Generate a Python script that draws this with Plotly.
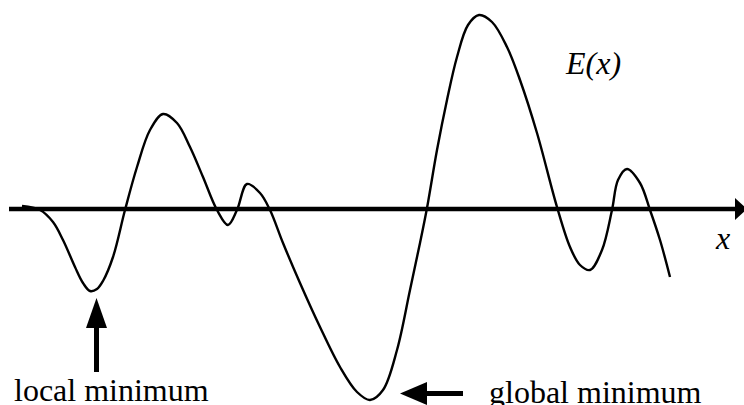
import plotly.graph_objects as go

# Curve E(x) (x in px units, E = height above the x axis in px)
x_vals = [22, 40, 53, 63, 75, 83, 90, 97, 103, 113, 125, 137, 150, 163, 177, 190, 203, 217, 228, 237, 247,
          260, 270, 283, 300, 320, 340, 357, 370, 383, 397, 410, 420, 427, 437, 447, 457, 468, 479,
          492, 507, 520, 537, 557, 570, 580, 590, 602, 612, 618, 627, 640, 650, 660, 670]
py_vals = [206, 210, 222, 240, 267, 283, 291, 289, 281, 257, 210, 167, 130, 114, 123, 147, 177, 210, 225, 210, 184,
           193, 210, 243, 283, 327, 367, 392, 400, 390, 350, 290, 243, 208, 150, 100, 57, 25, 15,
           22, 47, 80, 133, 207, 247, 265, 270, 250, 210, 180, 169, 183, 210, 240, 277]
AXIS_ROW = 209
e_vals = [AXIS_ROW - p for p in py_vals]

labels = ["local minimum", "global minimum", "E(x)", "x"]

W, H = 744, 405
def py(p):
    return AXIS_ROW - p

fig = go.Figure()
fig.add_trace(go.Scatter(x=x_vals, y=e_vals, mode="lines",
                         line=dict(color="black", width=2.4, shape="spline", smoothing=1.0),
                         hoverinfo="skip", showlegend=False))

shapes = []
# x axis with arrow
shapes.append(dict(type="line", xref="x", yref="y", x0=9, x1=737, y0=0, y1=0,
                   line=dict(color="black", width=4.5)))
shapes.append(dict(type="path", xref="x", yref="y",
                   path=f"M 735 {py(198)} L 747 {py(209)} L 735 {py(220)} Z",
                   fillcolor="black", line=dict(width=0)))
# local minimum arrow
shapes.append(dict(type="line", xref="x", yref="y", x0=96.5, x1=96.5, y0=py(372), y1=py(326),
                   line=dict(color="black", width=5)))
shapes.append(dict(type="path", xref="x", yref="y",
                   path=f"M 86 {py(328)} L 96.5 {py(298)} L 107 {py(328)} Z",
                   fillcolor="black", line=dict(width=0)))
# global minimum arrow
shapes.append(dict(type="line", xref="x", yref="y", x0=425, x1=463, y0=py(393.5), y1=py(393.5),
                   line=dict(color="black", width=5)))
shapes.append(dict(type="path", xref="x", yref="y",
                   path=f"M 427 {py(382)} L 400 {py(393.5)} L 427 {py(405)} Z",
                   fillcolor="black", line=dict(width=0)))

font = dict(family="Liberation Serif", size=32, color="black")
ann = []
ann.append(dict(x=12, y=py(390), xref="x", yref="y", text=labels[0], showarrow=False,
                xanchor="left", yanchor="middle", font=font))
ann.append(dict(x=487, y=py(392), xref="x", yref="y", text=labels[1], showarrow=False,
                xanchor="left", yanchor="middle", font=font))
ann.append(dict(x=563, y=py(63), xref="x", yref="y", text="<i>E(x)</i>", showarrow=False,
                xanchor="left", yanchor="middle", font=font))
ann.append(dict(x=713, y=py(238), xref="x", yref="y", text="<i>x</i>", showarrow=False,
                xanchor="left", yanchor="middle", font=font))

fig.update_layout(
    width=W, height=H, margin=dict(l=0, r=0, t=0, b=0),
    paper_bgcolor="white", plot_bgcolor="white",
    xaxis=dict(range=[0, W], visible=False, fixedrange=True),
    yaxis=dict(range=[AXIS_ROW - H, AXIS_ROW], visible=False, fixedrange=True),
    shapes=shapes, annotations=ann, showlegend=False,
)
fig.write_html("out.html", config={"displayModeBar": False},
               post_script="document.body.style.margin='0';document.body.style.overflow='hidden';")
